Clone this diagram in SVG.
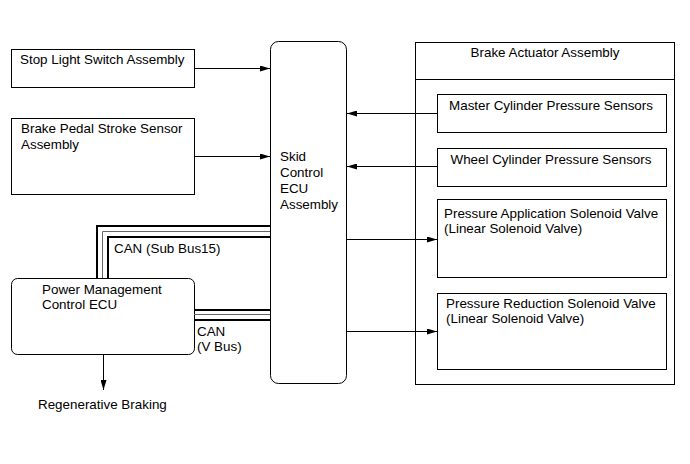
<svg xmlns="http://www.w3.org/2000/svg" width="690" height="464" viewBox="0 0 690 464">
<style>
.b{fill:#fff;stroke:#000;stroke-width:1}
.t{font-family:"Liberation Sans",Arial,sans-serif;font-size:13.4px;fill:#000}
.c{fill:none;stroke:#000;stroke-width:1}
.k{fill:none;stroke:#000;stroke-width:2}
.g{fill:none;stroke:#666;stroke-width:1}
</style>
<defs>
<marker id="a" viewBox="0 0 10 6" refX="10" refY="3" markerWidth="10" markerHeight="6" markerUnits="userSpaceOnUse" orient="auto">
<path d="M0,0 L10,3 L0,6 z" fill="#000"/>
</marker>
</defs>
<rect width="690" height="464" fill="#fff"/>
<g id="stop-light">
<rect class="b" x="11.5" y="49.5" width="183" height="38"/>
<text class="t" x="20" y="64">Stop Light Switch Assembly</text>
</g>
<g id="brake-pedal">
<rect class="b" x="11.5" y="118.5" width="183" height="76"/>
<text class="t" x="21" y="133">Brake Pedal Stroke Sensor</text>
<text class="t" x="21" y="149">Assembly</text>
</g>
<g id="skid-ecu">
<rect class="b" x="270.5" y="41.5" width="76" height="342" rx="8" ry="8"/>
<text class="t" x="280" y="161">Skid</text>
<text class="t" x="280" y="177">Control</text>
<text class="t" x="280" y="193">ECU</text>
<text class="t" x="280" y="209">Assembly</text>
</g>
<g id="brake-actuator">
<rect class="b" x="415.5" y="42.5" width="259" height="342"/>
<line class="c" x1="415" y1="79.5" x2="675" y2="79.5"/>
<text class="t" x="545" y="57" text-anchor="middle">Brake Actuator Assembly</text>
</g>
<g id="master-cyl">
<rect class="b" x="437.5" y="94.5" width="229" height="38"/>
<text class="t" x="551" y="110" text-anchor="middle">Master Cylinder Pressure Sensors</text>
</g>
<g id="wheel-cyl">
<rect class="b" x="437.5" y="148.5" width="229" height="38"/>
<text class="t" x="551" y="164" text-anchor="middle">Wheel Cylinder Pressure Sensors</text>
</g>
<g id="press-app">
<rect class="b" x="437.5" y="199.5" width="229" height="78"/>
<text class="t" x="444" y="218">Pressure Application Solenoid Valve</text>
<text class="t" x="444" y="233">(Linear Solenoid Valve)</text>
</g>
<g id="press-red">
<rect class="b" x="437.5" y="293.5" width="229" height="76"/>
<text class="t" x="446" y="308">Pressure Reduction Solenoid Valve</text>
<text class="t" x="446" y="323">(Linear Solenoid Valve)</text>
</g>
<g id="power-ecu">
<rect class="b" x="11.5" y="278.5" width="183" height="76" rx="6" ry="6"/>
<text class="t" x="42" y="294">Power Management</text>
<text class="t" x="42" y="309">Control ECU</text>
</g>
<g id="regen">
<text class="t" x="38" y="409">Regenerative Braking</text>
</g>
<g id="connectors">
<line class="c" x1="194" y1="68.5" x2="270" y2="68.5" marker-end="url(#a)"/>
<line class="c" x1="194" y1="156.5" x2="270" y2="156.5" marker-end="url(#a)"/>
<line class="c" x1="437" y1="113.5" x2="347" y2="113.5" marker-end="url(#a)"/>
<line class="c" x1="437" y1="166.5" x2="347" y2="166.5" marker-end="url(#a)"/>
<line class="c" x1="347" y1="239.5" x2="437" y2="239.5" marker-end="url(#a)"/>
<line class="c" x1="347" y1="331.5" x2="437" y2="331.5" marker-end="url(#a)"/>
<line class="c" x1="103.5" y1="355" x2="103.5" y2="390" marker-end="url(#a)"/>
<polyline class="k" points="97,278 97,226 270,226"/>
<polyline class="g" points="102.5,278 102.5,231.5 270,231.5"/>
<polyline class="k" points="108,278 108,237 270,237"/>
<line class="k" x1="194" y1="310" x2="270" y2="310"/>
<line class="g" x1="194" y1="314.5" x2="270" y2="314.5"/>
<line class="k" x1="194" y1="320" x2="270" y2="320"/>
<text class="t" x="114" y="253">CAN (Sub Bus15)</text>
<text class="t" x="197" y="336">CAN</text>
<text class="t" x="197" y="351">(V Bus)</text>
</g>
</svg>
